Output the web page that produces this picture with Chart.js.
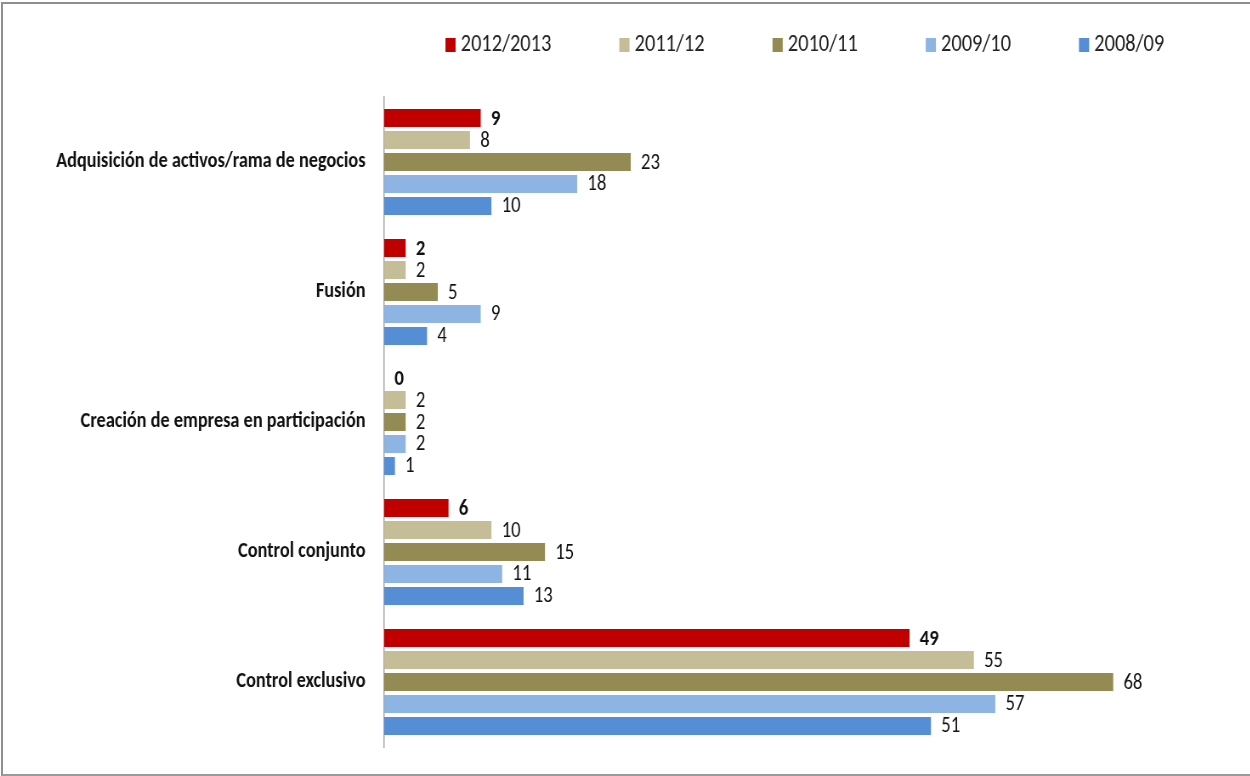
<!DOCTYPE html>
<html>
<head>
<meta charset="utf-8">
<script src="https://cdn.jsdelivr.net/npm/chart.js@4.4.1/dist/chart.umd.min.js"></script>
<style>
  body { margin: 0; background: #fff; overflow: hidden; }
  #wrap { position: relative; width: 1250px; height: 776px; overflow: hidden; }
  /* el original tiene el texto estrecho y alto: se dibuja más ancho y se comprime */
  #chart { display: block; transform: scaleX(0.85); transform-origin: 0 0; }
  #frame {
    position: absolute; left: 1px; top: 2px; width: 1270px; height: 770px;
    border-top: 2px solid #8f8f8f; border-left: 2px solid #8f8f8f; border-bottom: 2px solid #9a9a9a;
    pointer-events: none;
  }
</style>
</head>
<body>
<div id="wrap">
  <canvas id="chart" width="1471" height="776"></canvas>
  <div id="frame"></div>
</div>
<script>
const FONT = "Carlito, 'Liberation Sans', sans-serif";

// categorías (de arriba abajo)
const categories = [
  "Adquisición de activos/rama de negocios",
  "Fusión",
  "Creación de empresa en participación",
  "Control conjunto",
  "Control exclusivo"
];

const seriesNames = ["2012/2013", "2011/12", "2010/11", "2009/10", "2008/09"];
const seriesColors = ["#C00000", "#C4BD97", "#948A54", "#8DB4E2", "#558ED5"];

const values2012_13 = [9, 2, 0, 6, 49];
const values2011_12 = [8, 2, 2, 10, 55];
const values2010_11 = [23, 5, 2, 15, 68];
const values2009_10 = [18, 9, 2, 11, 57];
const values2008_09 = [10, 4, 1, 13, 51];

const seriesValues = [values2012_13, values2011_12, values2010_11, values2009_10, values2008_09];

// etiquetas de valor al final de cada barra
const valueLabels = {
  id: "valueLabels",
  afterDatasetsDraw(chart) {
    const ctx = chart.ctx;
    ctx.save();
    ctx.textBaseline = "middle";
    ctx.textAlign = "left";
    ctx.fillStyle = "#111";
    chart.data.datasets.forEach((ds, i) => {
      const meta = chart.getDatasetMeta(i);
      ctx.font = (i === 0 ? "bold " : "") + "22px " + FONT;
      meta.data.forEach((bar, j) => {
        ctx.fillText(String(ds.data[j]), bar.x + 12, bar.y + 1);
      });
    });
    ctx.restore();
  }
};

// leyenda superior
const topLegend = {
  id: "topLegend",
  afterDraw(chart) {
    const ctx = chart.ctx;
    ctx.save();
    ctx.font = "24px " + FONT;
    ctx.textBaseline = "middle";
    ctx.textAlign = "left";
    let x = 524;
    chart.data.datasets.forEach(ds => {
      ctx.fillStyle = ds.backgroundColor;
      ctx.fillRect(x, 38, 12, 14);
      ctx.fillStyle = "#222";
      ctx.fillText(ds.label, x + 18, 45);
      x += 18 + ctx.measureText(ds.label).width + 80;
    });
    ctx.restore();
  }
};

const ctx = document.getElementById("chart").getContext("2d");
new Chart(ctx, {
  type: "bar",
  data: {
    labels: categories,
    datasets: seriesNames.map((name, i) => ({
      label: name,
      data: seriesValues[i],
      backgroundColor: seriesColors[i],
      borderWidth: 0,
      categoryPercentage: 0.846,
      barPercentage: 0.82
    }))
  },
  options: {
    indexAxis: "y",
    responsive: false,
    animation: false,
    layout: { padding: { top: 97, right: 10, bottom: 29, left: 0 } },
    plugins: {
      legend: { display: false },
      tooltip: { enabled: false }
    },
    scales: {
      x: {
        display: false,
        min: 0,
        max: 80
      },
      y: {
        grid: { display: false, drawTicks: false },
        border: { display: true, color: "#a6a6a6", width: 1.5 },
        ticks: {
          color: "#111",
          padding: 22,
          font: { family: FONT, size: 21.5, weight: "bold" }
        },
        afterFit(scale) {
          scale.width = 452;
          scale.paddingTop = 0;
          scale.paddingBottom = 0;
        }
      }
    }
  },
  plugins: [valueLabels, topLegend]
});
</script>
</body>
</html>
